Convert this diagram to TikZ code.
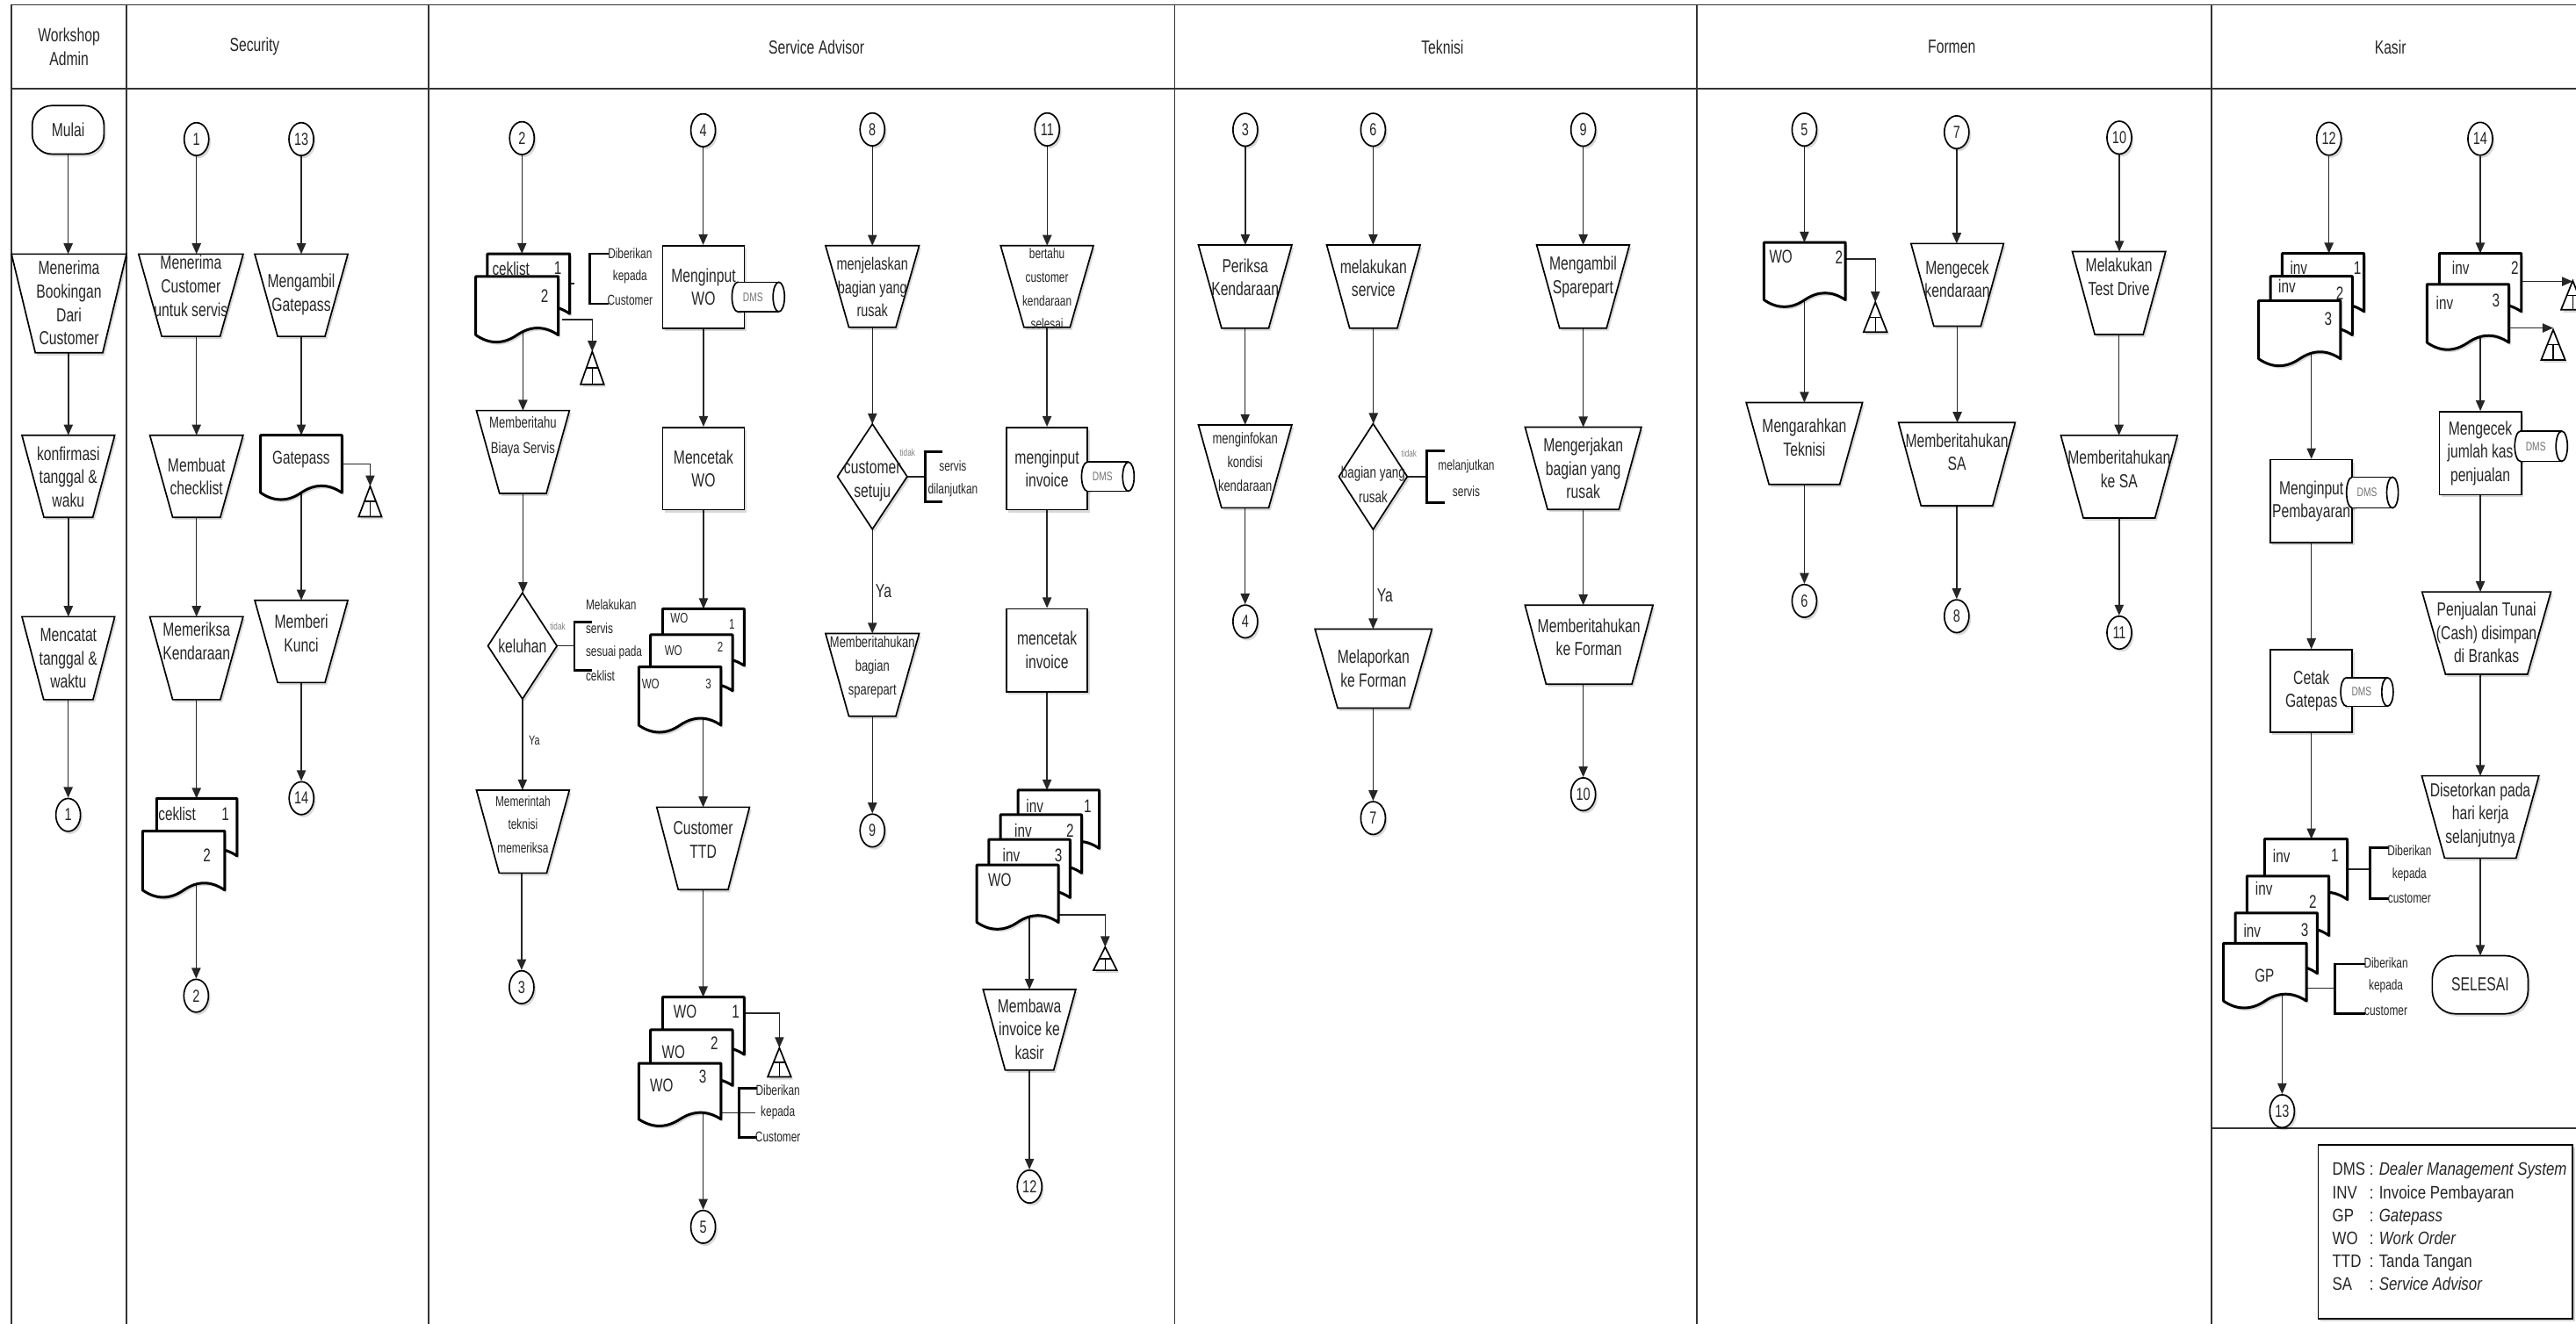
\documentclass[tikz,border=0pt]{standalone}
\usepackage{fontspec}
\setmainfont{Liberation Sans}[FakeStretch=0.73]
\newfontfamily\legfont{Liberation Sans}[FakeStretch=0.82]
\usetikzlibrary{shapes.geometric,arrows.meta,shadows}
\pgfdeclarelayer{bg}
\pgfsetlayers{bg,main}

\newcommand\FtMain{\fontsize{11.5}{14.2}\selectfont}
\newcommand\FtMid{\fontsize{10.6}{14.2}\selectfont}
\newcommand\FtSm{\fontsize{9.5}{14.4}\selectfont}
\newcommand\FtSmW{\fontsize{9.6}{15.7}\selectfont}
\newcommand\FtSmD{\fontsize{9.8}{15}\selectfont}
\newcommand\FtXs{\fontsize{8.7}{14.3}\selectfont}
\newcommand\FtDoc{\fontsize{11.2}{12}\selectfont}
\newcommand\FtDocS{\fontsize{8.5}{10}\selectfont}
\newcommand\FtTiny{\fontsize{6}{7}\selectfont}
\newcommand\FtDms{\fontsize{7.5}{8}\selectfont}
\newcommand\FtYa{\fontsize{8}{9}\selectfont}
\newcommand\FtHead{\fontsize{11.5}{14.8}\selectfont}
\newcommand\FtLeg{\legfont\fontsize{11}{14}\selectfont}

\tikzset{
  shp/.style={draw=black, line width=0.9pt, fill=white},
  shpl/.style={draw=black, line width=0.9pt},
  sh/.style={drop shadow={shadow xshift=1.2pt, shadow yshift=-1.6pt, fill=black, opacity=0.15}},
  dshp/.style={draw=black, line width=1.6pt, fill=white, line join=round},
  box/.style={draw=none, inner sep=0pt, outer sep=0pt},
  txt/.style={inner sep=0pt, align=center, text=black!85},
  lbl/.style={inner sep=0pt, text=black!85, font=\FtDoc},
  lbls/.style={inner sep=0pt, text=black!85, font=\FtDocS},
  conn/.style={ellipse, draw=black, line width=0.9pt, fill=white, inner sep=0pt,
    minimum width=15pt, minimum height=20pt, font=\FtMid, text=black!85, sh},
  arr/.style={draw=black!85, line width=0.75pt, -{Triangle[length=6.5pt,width=5.5pt]}},
  ln/.style={draw=black!85, line width=0.75pt},
  brk/.style={draw=black, line width=1.5pt},
  lane/.style={draw=black!80, line width=0.9pt},
  ann/.style={inner sep=0pt, text=black!85, font=\FtXs},
  tdk/.style={inner sep=0pt, text=black!50, font=\FtTiny},
  rect/.style={rectangle, draw=black, line width=0.9pt, fill=white, inner sep=0pt,
    align=center, text=black!85, font=\FtMain, sh}
}

% manual operation (inverted trapezium): name cx top bot wtop wbot texty font text
\newcommand\MOp[9]{%
  \filldraw[shp,sh] ({#2-(#5)/2},#3) -- ({#2+(#5)/2},#3) -- ({#2+(#6)/2},#4) -- ({#2-(#6)/2},#4) -- cycle;
  \node[box, minimum width={(#5)*1pt}, minimum height={(#4-#3)*1pt}] (#1) at (#2,{(#3+#4)/2}) {};
  \node[txt, font=#8] (#1t) at (#2,#7) {#9};
}
% document: name x0 y0 w hb
\newcommand\DOc[5]{%
  \filldraw[dshp,sh] (#2,{#3+#5}) -- (#2,#3) -- ({#2+#4},#3) -- ({#2+#4},{#3+#5})
    .. controls ({#2+5*#4/6},{#3+#5-0.16*#5}) and ({#2+4*#4/6},{#3+#5-0.16*#5}) .. ({#2+#4/2},{#3+#5})
    .. controls ({#2+2*#4/6},{#3+#5+0.16*#5}) and ({#2+#4/6},{#3+#5+0.16*#5}) .. (#2,{#3+#5}) -- cycle;
  \node[box, minimum width={(#4)*1pt}, minimum height={(#5)*1pt}] (#1) at ({#2+#4/2},{#3+#5/2}) {};
}
% decision: name cx cy hw hh
\newcommand\DIa[5]{%
  \filldraw[shp,sh] (#2,{#3-(#5)}) -- ({#2+(#4)},#3) -- (#2,{#3+(#5)}) -- ({#2-(#4)},#3) -- cycle;
  \node[box, minimum width={2*(#4)*1pt}, minimum height={2*(#5)*1pt}] (#1) at (#2,#3) {};
}
% offline file triangle: name cx top w h
\newcommand\TRi[5]{%
  \filldraw[shp,sh] (#2,#3) -- ({#2+(#4)/2},{#3+#5}) -- ({#2-(#4)/2},{#3+#5}) -- cycle;
  \draw[shpl, line width=0.7pt] ({#2-(#4)/4},{#3+(#5)/2}) -- ({#2+(#4)/4},{#3+(#5)/2})
    (#2,{#3+(#5)/2}) -- (#2,{#3+#5});
  \node[box, minimum width={(#4)*1pt}, minimum height={(#5)*1pt}] (#1) at (#2,{#3+(#5)/2}) {};
}
% DMS cylinder: name cx cy L H
\newcommand\DMs[5]{%
  \filldraw[shp,sh] ({#2-(#4)/2+3.5},#3) ellipse [x radius=3.5, y radius={(#5)/2}];
  \fill[white] ({#2-(#4)/2+3.5},{#3-(#5)/2}) rectangle ({#2+(#4)/2},{#3+(#5)/2});
  \draw[shpl] ({#2-(#4)/2+3.5},{#3-(#5)/2}) -- ({#2+(#4)/2},{#3-(#5)/2})
    ({#2-(#4)/2+3.5},{#3+(#5)/2}) -- ({#2+(#4)/2},{#3+(#5)/2});
  \filldraw[shp] ({#2+(#4)/2},#3) ellipse [x radius=3.5, y radius={(#5)/2}];
  \node[box, minimum width={(#4)*1pt}, minimum height={(#5)*1pt}, font=\FtDms, text=black!55] (#1) at ({#2-1.5},#3) {DMS};
}
% bracket: xbar ytop ybot xend
\newcommand\BRk[4]{\draw[brk] (#4,#2) -- (#1,#2) -- (#1,#3) -- (#4,#3);}

\begin{document}
\begin{tikzpicture}[x=1pt,y=-1pt]
\begin{pgfonlayer}{bg}
\fill[white] (0,0) rectangle (1568,806);
\end{pgfonlayer}
\useasboundingbox (0,0) rectangle (1568,806);

% ---------------- lanes
\begin{pgfonlayer}{bg}
\draw[lane] (1568,3) -- (7,3) -- (7,806);
\draw[lane] (7,54) -- (1568,54);
\foreach \xx in {77,261,715,1033,1346} \draw[lane] (\xx,3) -- (\xx,806);
\draw[lane] (1346,687) -- (1568,687);
\end{pgfonlayer}

\node[txt,font=\FtHead] (hWA) at (42,28.5) {Workshop\\Admin};
\node[txt,font=\FtHead] (hSec) at (155,28.5) {Security};
\node[txt,font=\FtHead] (hSA) at (497,28.5) {Service Advisor};
\node[txt,font=\FtHead] (hTk) at (878,28.5) {Teknisi};
\node[txt,font=\FtHead] (hFm) at (1188,28.5) {Formen};
\node[txt,font=\FtHead] (hKs) at (1455,28.5) {Kasir};

% ---------------- Workshop Admin
\filldraw[shp,sh,rounded corners=12] (19.6,64.3) rectangle (63.3,93.8);
\node[box,minimum width=43.7pt,minimum height=29.5pt,font=\FtMain,text=black!85] (mulai) at (41.5,79) {Mulai};
\MOp{wa1}{42}{154.7}{214.8}{70}{41}{184.5}{\FtMain}{Menerima\\Bookingan\\Dari\\Customer}
\MOp{wa2}{41.6}{265}{315}{56.5}{29.7}{290.3}{\FtMain}{konfirmasi\\tanggal \&\\waku}
\MOp{wa3}{41.6}{375.5}{426}{56.5}{30}{401}{\FtMain}{Mencatat\\tanggal \&\\waktu}
\node[conn] (wac1) at (41.5,496.2) {1};

% ---------------- Security
\node[conn] (sc1) at (119.6,84.7) {1};
\node[conn] (sc13) at (183.4,84.7) {13};
\MOp{s1}{116.2}{154.7}{204.8}{63.7}{35.5}{174.2}{\FtMain}{Menerima\\Customer\\untuk servis}
\MOp{s2}{183.4}{154.7}{204.8}{56.7}{28.8}{179.3}{\FtMain}{Mengambil\\Gatepass}
\MOp{s3}{119.6}{265}{315}{56.8}{29}{290.3}{\FtMain}{Membuat\\checklist}
\DOc{s4}{158.6}{265}{49.5}{35}
\node[lbl] (s4t) at (183.3,279.8) {Gatepass};
\TRi{tri1}{225.3}{296}{14}{18.6}
\MOp{s5}{119.6}{375.5}{426}{56.8}{29}{390.5}{\FtMain}{Memeriksa\\Kendaraan}
\MOp{s6}{183.4}{365.5}{415.6}{56.7}{28.8}{385.5}{\FtMain}{Memberi\\Kunci}
\DOc{s7a}{95.3}{486.2}{49}{35}
\node[lbl] (s7a1) at (107.8,495.8) {ceklist};
\node[lbl] (s7a2) at (137.2,495.8) {1};
\DOc{s7b}{86.8}{506}{50}{36}
\node[lbl] (s7b1) at (126,521) {2};
\node[conn] (sc2) at (119.4,606.3) {2};
\node[conn] (sc14) at (183.5,486) {14};

% ---------------- Service Advisor col A
\node[conn] (ac2) at (317.7,84.1) {2};
\DOc{a1a}{296.7}{154.5}{50}{36.5}
\node[lbl] (a1a1) at (311,163.4) {ceklist};
\node[lbl] (a1a2) at (339.5,163.4) {1};
\DOc{a1b}{289.6}{168.3}{50.2}{35.7}
\node[lbl] (a1b1) at (331.5,180.3) {2};
\BRk{359}{154.5}{185}{370.7}
\node[ann] (a1n1) at (383.5,154.5) {Diberikan};
\node[ann] (a1n2) at (383.5,168.3) {kepada};
\node[ann] (a1n3) at (383.5,182.8) {Customer};
\TRi{tri2}{360.5}{214}{14.2}{20}
\coordinate (a1p) at (342,194.7);
\MOp{a2}{318.3}{250}{300.4}{56.6}{28.5}{265.9}{\FtSmW}{Memberitahu\\Biaya Servis}
\DIa{a3}{318}{393.3}{21}{32.3}
\node[txt,font=\FtMain] (a3t) at (318,393.3) {keluhan};
\node[tdk] (a3n) at (339.5,381.6) {tidak};
\coordinate (a3b) at (349.6,393.3);
\BRk{349.6}{378.9}{408}{360.5}
\node[ann,anchor=west] (a3m1) at (356.4,368) {Melakukan};
\node[ann,anchor=west] (a3m2) at (356.4,382.4) {servis};
\node[ann,anchor=west] (a3m3) at (356.4,397.1) {sesuai pada};
\node[ann,anchor=west] (a3m4) at (356.4,411.6) {ceklist};
\node[txt,font=\FtYa] (a3y) at (325.2,451.1) {Ya};
\MOp{a4}{318.3}{481.1}{531.6}{56.6}{28.9}{502}{\FtXs}{Memerintah\\teknisi\\memeriksa}
\node[conn] (ac3) at (317.5,601.1) {3};

% ---------------- Service Advisor col B
\node[conn] (bc4) at (428,79.3) {4};
\node[rect,minimum width=49.7pt,minimum height=50.2pt] (b1) at (428.2,174.7) {Menginput\\WO};
\DMs{dms1}{459.8}{180.8}{28.5}{18}
\node[rect,minimum width=49.7pt,minimum height=50.1pt] (b2) at (428.2,285.3) {Mencetak\\WO};
\DOc{b3a}{403.3}{370.7}{49.7}{34.6}
\node[lbls] (b3a1) at (413.4,376.5) {WO};
\node[lbls] (b3a2) at (445.5,380.2) {1};
\DOc{b3b}{396}{386.5}{49.9}{34.1}
\node[lbls] (b3b1) at (409.9,396) {WO};
\node[lbls] (b3b2) at (438.4,393.9) {2};
\DOc{b3c}{388.8}{406.1}{50.1}{35.5}
\node[lbls] (b3c1) at (396,416.2) {WO};
\node[lbls] (b3c2) at (431.2,416.2) {3};
\MOp{b4}{428}{491.5}{541.7}{56.5}{30.3}{511.3}{\FtMain}{Customer\\TTD}
\DOc{b5a}{403.3}{607.1}{49.7}{35}
\node[lbl] (b5a1) at (417,616.1) {WO};
\node[lbl] (b5a2) at (447.8,616.1) {1};
\DOc{b5b}{396}{627}{49.9}{34}
\node[lbl] (b5b1) at (409.9,640.7) {WO};
\node[lbl] (b5b2) at (434.8,635.2) {2};
\DOc{b5c}{388.8}{647.5}{50.1}{34}
\node[lbl] (b5c1) at (402.7,661.1) {WO};
\node[lbl] (b5c2) at (427.7,655.7) {3};
\TRi{tri3}{474.4}{638}{14.2}{17.7}
\coordinate (b5ao) at (453,617);
\coordinate (b5co) at (438.9,677.5);
\BRk{450}{662.5}{692.5}{460.7}
\node[ann] (b5n1) at (473.5,663.9) {Diberikan};
\node[ann] (b5n2) at (473.5,677.5) {kepada};
\node[ann] (b5n3) at (473.5,692.5) {Customer};
\node[conn] (bc5) at (428,747) {5};

% ---------------- Service Advisor col C
\node[conn] (cc8) at (531,78.8) {8};
\MOp{c1}{531}{149.6}{199.3}{57}{28.6}{175}{\FtMid}{menjelaskan\\bagian yang\\rusak}
\DIa{c2}{531}{290.2}{21.2}{32}
\node[txt,font=\FtMain] (c2t) at (531,293) {customer\\setuju};
\node[tdk] (c2n) at (552.4,275.8) {tidak};
\coordinate (c2b) at (563.4,290.2);
\BRk{563.4}{275}{305.4}{573.8}
\node[ann] (c2m1) at (580,283.5) {servis};
\node[ann] (c2m2) at (580,298.7) {dilanjutkan};
\node[txt,font=\FtMain] (c2y) at (537.8,359.7) {Ya};
\MOp{c3}{531}{385.7}{436.1}{57}{28.6}{406.4}{\FtSm}{Memberitahukan\\bagian\\sparepart}
\node[conn] (cc9) at (531,505.7) {9};

% ---------------- Service Advisor col D
\node[conn] (dc11) at (637.4,78.8) {11};
\MOp{d1}{637.3}{149.6}{199.3}{56.5}{28}{175.8}{\FtXs}{bertahu\\customer\\kendaraan\\selesai}
\node[rect,minimum width=49.4pt,minimum height=50.1pt] (d2) at (637.3,285.3) {menginput\\invoice};
\DMs{dms2}{672.6}{290.2}{28.5}{17.7}
\node[rect,minimum width=49.4pt,minimum height=50.4pt] (d3) at (637.3,395.9) {mencetak\\invoice};
\DOc{d4a}{619.7}{481.1}{49.4}{35.5}
\node[lbl] (d4a1) at (629.9,490.7) {inv};
\node[lbl] (d4a2) at (662,490.7) {1};
\DOc{d4b}{609}{496.1}{49.4}{35.5}
\node[lbl] (d4b1) at (622.8,505.7) {inv};
\node[lbl] (d4b2) at (651.3,505.7) {2};
\DOc{d4c}{601.9}{511.1}{49.4}{35.5}
\node[lbl] (d4c1) at (615.6,520.7) {inv};
\node[lbl] (d4c2) at (644.2,520.7) {3};
\DOc{d4d}{594.6}{526.7}{49.6}{34.9}
\node[lbl] (d4d1) at (608.5,535.7) {WO};
\TRi{tri4}{672.7}{576.6}{14.3}{14.2}
\coordinate (d4o) at (644.2,557);
\MOp{d5}{626.6}{602.5}{651.6}{56.4}{29.5}{626.5}{\FtMain}{Membawa\\invoice ke\\kasir}
\node[conn] (dc12) at (626.7,722.5) {12};

% ---------------- Teknisi
\node[conn] (tc3) at (758,79) {3};
\node[conn] (tc6) at (835.8,79) {6};
\node[conn] (tc9) at (963.7,79) {9};
\MOp{t1}{757.9}{149.2}{199.8}{56.9}{28.7}{168.75}{\FtMain}{Periksa\\Kendaraan}
\MOp{t2}{836}{149.2}{199.8}{56.9}{29}{169.3}{\FtMain}{melakukan\\service}
\MOp{t3}{963.6}{149.2}{199.8}{56.5}{28.6}{168.5}{\FtMain}{Mengambil\\Sparepart}
\MOp{t4}{757.9}{258.7}{309.2}{56.9}{28.7}{281.1}{\FtSm}{menginfokan\\kondisi\\kendaraan}
\node[conn] (tc4) at (758,378.4) {4};
\DIa{t5}{835.8}{290.2}{20.8}{32.2}
\node[txt,font=\FtSmD] (t5t) at (835.8,295.2) {bagian yang\\rusak};
\node[tdk] (t5n) at (857.7,276.1) {tidak};
\coordinate (t5b) at (868.5,290.2);
\BRk{868.5}{274.4}{306.1}{879.2}
\node[ann] (t5m1) at (892.5,284) {melanjutkan};
\node[ann] (t5m2) at (892.5,299) {servis};
\node[txt,font=\FtMain] (t5y) at (843,362.3) {Ya};
\MOp{t6}{836}{383}{431.2}{71.2}{43.6}{407.1}{\FtMain}{Melaporkan\\ke Forman}
\node[conn] (tc7) at (835.8,498.1) {7};
\MOp{t7}{963.7}{260.1}{310.2}{70.8}{43.4}{285.2}{\FtMain}{Mengerjakan\\bagian yang\\rusak}
\MOp{t8}{967.2}{368.5}{416.6}{77.9}{52.2}{387.9}{\FtMain}{Memberitahukan\\ke Forman}
\node[conn] (tc10) at (963.7,483.6) {10};

% ---------------- Formen
\node[conn] (fc5) at (1098.3,78.9) {5};
\node[conn] (fc7) at (1191,80.5) {7};
\node[conn] (fc10) at (1290,83.8) {10};
\DOc{f1}{1073.7}{147.6}{49.6}{35}
\node[lbl] (f1a) at (1084,156.5) {WO};
\node[lbl] (f1b) at (1119.4,156.5) {2};
\TRi{tri5}{1141.5}{184}{14.3}{18.2}
\coordinate (f1o) at (1123.3,157.6);
\MOp{f2}{1098.3}{245.1}{295}{70.8}{43}{266.5}{\FtMain}{Mengarahkan\\Teknisi}
\node[conn] (fc6) at (1098.3,365.9) {6};
\MOp{f3}{1191.4}{148.3}{198.6}{56.4}{28.6}{169.8}{\FtMain}{Mengecek\\kendaraan}
\MOp{f4}{1191.1}{257.3}{307.9}{71}{43.6}{275.2}{\FtMain}{Memberitahukan\\SA}
\node[conn] (fc8) at (1191,375.2) {8};
\MOp{f5}{1289.8}{153.2}{203.7}{56.8}{29.4}{168.7}{\FtMain}{Melakukan\\Test Drive}
\MOp{f6}{1289.9}{265.1}{315.4}{71}{43.6}{285.6}{\FtMain}{Memberitahukan\\ke SA}
\node[conn] (fc11) at (1290,385.2) {11};

% ---------------- Kasir
\node[conn] (kc12) at (1417.6,84.5) {12};
\node[conn] (kc14) at (1509.7,84.5) {14};
\DOc{k1a}{1389.1}{154.3}{49.9}{35.4}
\node[lbl] (k1a1) at (1399.2,163.2) {inv};
\node[lbl] (k1a2) at (1434.9,163.2) {1};
\DOc{k1b}{1382}{168.2}{49.8}{35.8}
\node[lbl] (k1b1) at (1392.1,174.2) {inv};
\node[lbl] (k1b2) at (1424.2,178.7) {2};
\DOc{k1c}{1374.8}{183.1}{49.9}{35.4}
\node[lbl] (k1c2) at (1417.2,194.2) {3};
\node[rect,minimum width=49.8pt,minimum height=50.6pt] (k2) at (1406.9,305.2) {Menginput\\Pembayaran};
\DMs{dms3}{1442.3}{299.9}{28}{18.8}
\node[rect,minimum width=49.8pt,minimum height=50.1pt] (k3) at (1406.9,420.75) {Cetak\\Gatepas};
\DMs{dms4}{1439}{421.3}{28.5}{17.4}
\DOc{k4a}{1378.4}{510.9}{50.4}{36.8}
\node[lbl] (k4a1) at (1388.7,521.1) {inv};
\node[lbl] (k4a2) at (1421.1,521.1) {1};
\DOc{k4b}{1367.7}{533.4}{49.9}{36.2}
\node[lbl] (k4b1) at (1378,540.9) {inv};
\node[lbl] (k4b2) at (1407.8,549.1) {2};
\DOc{k4c}{1360.6}{555.9}{49.9}{36.8}
\node[lbl] (k4c1) at (1370.9,566.5) {inv};
\node[lbl] (k4c2) at (1402.8,566.5) {3};
\DOc{k4d}{1353.4}{574.3}{50.5}{35.2}
\node[lbl] (k4d1) at (1378.4,594.1) {GP};
\BRk{1442.5}{516}{547.1}{1454.1}
\node[ann] (k4n1) at (1466.6,518) {Diberikan};
\node[ann] (k4n2) at (1466.6,532.4) {kepada};
\node[ann] (k4n3) at (1466.6,547.1) {customer};
\coordinate (k4do) at (1403.9,601.7);
\BRk{1421.1}{587}{617.3}{1439.9}
\node[ann] (k4m1) at (1452.3,586.4) {Diberikan};
\node[ann] (k4m2) at (1452.3,600.7) {kepada};
\node[ann] (k4m3) at (1452.3,615.6) {customer};
\node[conn] (kc13) at (1389.1,676.6) {13};

\DOc{k5a}{1484.8}{154.3}{49.9}{35.4}
\node[lbl] (k5a1) at (1497.8,163.2) {inv};
\node[lbl] (k5a2) at (1530.7,163.2) {2};
\DOc{k5b}{1477.3}{173.1}{49.9}{35.5}
\node[lbl] (k5b1) at (1488,184.2) {inv};
\node[lbl] (k5b2) at (1519.2,183.1) {3};
\TRi{tri6}{1566}{171}{14.2}{17.6}
\TRi{tri7}{1554.1}{200.8}{14.6}{18.4}
\coordinate (k5ao) at (1534.7,171.4);
\coordinate (k5bo) at (1525.4,199.7);
\node[rect,minimum width=49.9pt,minimum height=50.5pt] (k6) at (1509.75,275.95) {Mengecek\\jumlah kas\\penjualan};
\DMs{dms5}{1545}{271.7}{28.6}{18.4}
\MOp{k7}{1513.5}{360.4}{410.6}{78.4}{49.9}{385.3}{\FtMain}{Penjualan Tunai\\(Cash) disimpan\\di Brankas}
\MOp{k8}{1509.75}{472.4}{522.5}{71.3}{43.5}{496.3}{\FtMain}{Disetorkan pada\\hari kerja\\selanjutnya}
\filldraw[shp,sh,rounded corners=14] (1480.5,581.9) rectangle (1538.8,617.3);
\node[box,font=\FtMain,text=black!85,minimum width=58.3pt,minimum height=35.4pt] (k9) at (1509.65,599.6) {SELESAI};

% ---------------- Legend
\node[draw=black, line width=0.9pt, fill=white, minimum width=155pt, minimum height=106pt, inner sep=0pt, sh] (leg) at (1488.5,750) {};
\node[anchor=west, inner sep=0pt, text=black!85, font=\FtLeg] (legt) at (1419.5,748)
 {\begin{tabular}{@{}l@{\ }l@{}}
 DMS & : \textit{Dealer Management System}\\
 INV & : Invoice Pembayaran\\
 GP & : \textit{Gatepass}\\
 WO & : \textit{Work Order}\\
 TTD & : Tanda Tangan\\
 SA & : \textit{Service Advisor}
 \end{tabular}};

% ---------------- connectors (behind shapes)
\begin{pgfonlayer}{bg}
% Workshop Admin
\draw[arr] (mulai.south) -- (mulai.south |- wa1.north);
\draw[arr] (wa2.north |- wa1.south) -- (wa2.north);
\draw[arr] (wa2.south) -- (wa3.north);
\draw[arr] (wac1.north |- wa3.south) -- (wac1.north);
% Security
\draw[arr] (sc1) -- (sc1 |- s1.north);
\draw[arr] (s3.north |- s1.south) -- (s3.north);
\draw[arr] (s3.south) -- (s5.north);
\draw[arr] (s5.south) -- (s5.south |- s7a.north);
\draw[arr] (sc2.north |- s7b.center) -- (sc2.north);
\draw[arr] (sc13) -- (sc13 |- s2.north);
\draw[arr] (s2.south) -- (s2.south |- s4.north);
\draw[arr] (s6.north |- s4.center) -- (s6.north);
\draw[arr] (s6.south) -- (s6.south |- sc14.north);
\draw[arr] (s4.east) -| (tri1.north);
% SA col A
\draw[arr] (ac2) -- (ac2 |- a1a.north);
\draw[arr] (a2.north |- a1b.center) -- (a2.north);
\draw[ln] (a1a.east) -- (a1a.east -| a3b);
\draw[arr] (a1p) -| (tri2.north);
\draw[arr] (a2.south) -- (a2.south |- a3.north);
\draw[ln] (a3.east) -- (a3b);
\draw[arr] (a3.south) -- (a3.south |- a4.north);
\draw[arr] (ac3.north |- a4.south) -- (ac3.north);
% SA col B
\draw[arr] (bc4) -- (bc4 |- b1.north);
\draw[arr] (b1) -- (b2);
\draw[arr] (b2.south) -- (b2.south |- b3a.north);
\draw[arr] (b4.north |- b3c.center) -- (b4.north);
\draw[arr] (b4.south) -- (b4.south |- b5a.north);
\draw[arr] (b5ao) -| (tri3.north);
\draw[ln] (b5co) -- ++(21,0);
\draw[arr] (bc5.north |- b5c.center) -- (bc5.north);
% SA col C
\draw[arr] (cc8) -- (cc8 |- c1.north);
\draw[arr] (c1.south) -- (c2.north);
\draw[ln] (c2.east) -- (c2b);
\draw[arr] (c2.south) -- (c3.north);
\draw[arr] (c3.south) -- (c3.south |- cc9.north);
% SA col D
\draw[arr] (dc11) -- (dc11 |- d1.north);
\draw[arr] (d2.north |- d1.south) -- (d2.north);
\draw[arr] (d2) -- (d3);
\draw[arr] (d3.south) -- (d3.south |- d4a.north);
\draw[arr] (d4o) -| (tri4.north);
\draw[arr] (d5.north |- d4d.center) -- (d5.north);
\draw[arr] (d5.south) -- (d5.south |- dc12.north);
% Teknisi
\draw[arr] (tc3) -- (tc3 |- t1.north);
\draw[arr] (t1.south) -- (t4.north);
\draw[arr] (t4.south) -- (t4.south |- tc4.north);
\draw[arr] (tc6) -- (tc6 |- t2.north);
\draw[arr] (t2.south) -- (t2.south |- t5.north);
\draw[ln] (t5.east) -- (t5b);
\draw[arr] (t5.south) -- (t5.south |- t6.north);
\draw[arr] (tc7.north |- t6.south) -- (tc7.north);
\draw[arr] (tc9) -- (tc9 |- t3.north);
\draw[arr] (t7.north |- t3.south) -- (t7.north);
\draw[arr] (t7.south) -- (t7.south |- t8.north);
\draw[arr] (tc10.north |- t8.south) -- (tc10.north);
% Formen
\draw[arr] (fc5) -- (fc5 |- f1.north);
\draw[arr] (f2.north |- f1.center) -- (f2.north);
\draw[arr] (f1o) -| (tri5.north);
\draw[arr] (f2.south) -- (f2.south |- fc6.north);
\draw[arr] (fc7) -- (fc7 |- f3.north);
\draw[arr] (f3.south) -- (f3.south |- f4.north);
\draw[arr] (fc8.north |- f4.south) -- (fc8.north);
\draw[arr] (fc10) -- (fc10 |- f5.north);
\draw[arr] (f5.south) -- (f5.south |- f6.north);
\draw[arr] (f6.south) -- (f6.south |- fc11.north);
% Kasir
\draw[arr] (kc12) -- (kc12 |- k1a.north);
\draw[arr] (k2.north |- k1c.center) -- (k2.north);
\draw[arr] (k2) -- (k3);
\draw[arr] (k3.south) -- (k3.south |- k4a.north);
\draw[ln] (k4a.east) -- ++(13.7,0);
\draw[ln] (k4do) -- ++(17.2,0);
\draw[arr] (kc13.north |- k4d.center) -- (kc13.north);
\draw[arr] (kc14) -- (kc14 |- k5a.north);
\draw[arr] (k5ao) -- (k5ao -| tri6.north);
\draw[arr] (k5bo) -- (k5bo -| tri7.north);
\draw[arr] (k6.north |- k5b.center) -- (k6.north);
\draw[arr] (k6.south) -- (k6.south |- k7.north);
\draw[arr] (k8.north |- k7.south) -- (k8.north);
\draw[arr] (k8.south) -- (k8.south |- k9.north);
\end{pgfonlayer}
\end{tikzpicture}
\end{document}
